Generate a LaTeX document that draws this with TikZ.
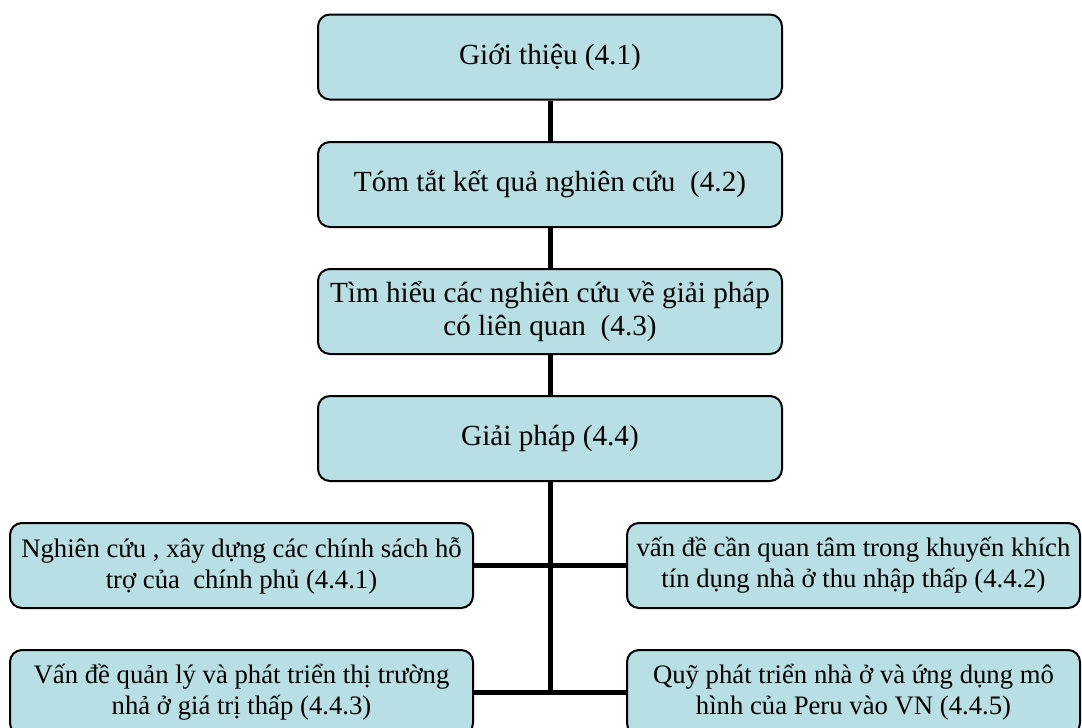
\documentclass[tikz,border=0pt]{standalone}
\usepackage{fontspec}
\setmainfont{Liberation Serif}
\usetikzlibrary{backgrounds}
\definecolor{boxfill}{RGB}{184,223,227}
\begin{document}
\begin{tikzpicture}[x=1pt,y=-1pt,
  box/.style={draw=black, line width=2pt, fill=boxfill, rounded corners=12pt,
    align=center, inner sep=0pt},
  topbox/.style={box, minimum width=464pt, minimum height=85pt, font=\fontsize{29.2}{32.5}\selectfont},
  leftbox/.style={box, minimum width=463pt, minimum height=85pt, font=\fontsize{26.7}{31}\selectfont},
  rightbox/.style={box, minimum width=453pt, minimum height=85pt, font=\fontsize{26.7}{31}\selectfont},
  link/.style={draw=black, line width=5pt}]
\useasboundingbox (0,0) rectangle (1082,728);
\path[clip] (0,0) rectangle (1082,728);
\node[topbox] (n1) at (550,57) {Giới thiệu (4.1)};
\node[topbox] (n2) at (550,184.5) {Tóm tắt kết quả nghiên cứu~ (4.2)};
\node[topbox] (n3) at (550,311.5) {Tìm hiểu các nghiên cứu về giải pháp\\có liên quan~ (4.3)};
\node[topbox] (n4) at (550,438.5) {Giải pháp (4.4)};
\node[leftbox] (n441) at (241.5,565.5) {Nghiên cứu , xây dựng các chính sách hỗ\\trợ của~ chính phủ (4.4.1)};
\node[rightbox] (n442) at (853.5,565.5) {vấn đề cần quan tâm trong khuyến khích\\tín dụng nhà ở thu nhập thấp (4.4.2)};
\node[leftbox] (n443) at (241.5,692.5) {Vấn đề quản lý và phát triển thị trường\\nhả ở giá trị thấp (4.4.3)};
\node[rightbox] (n445) at (853.5,692.5) {Quỹ phát triển nhà ở và ứng dụng mô\\hình của Peru vào VN (4.4.5)};
\coordinate (busend) at (n4.south |- n445.west);
\begin{scope}[on background layer]
  \draw[link] (n1.south) -- (n2.north);
  \draw[link] (n2.south) -- (n3.north);
  \draw[link] (n3.south) -- (n4.north);
  \draw[link] (n4.south) -- ([yshift=-2.5pt]busend);
  \draw[link] (n441.east) -- (n442.west);
  \draw[link] (n443.east) -- (n445.west);
\end{scope}
\end{tikzpicture}
\end{document}
